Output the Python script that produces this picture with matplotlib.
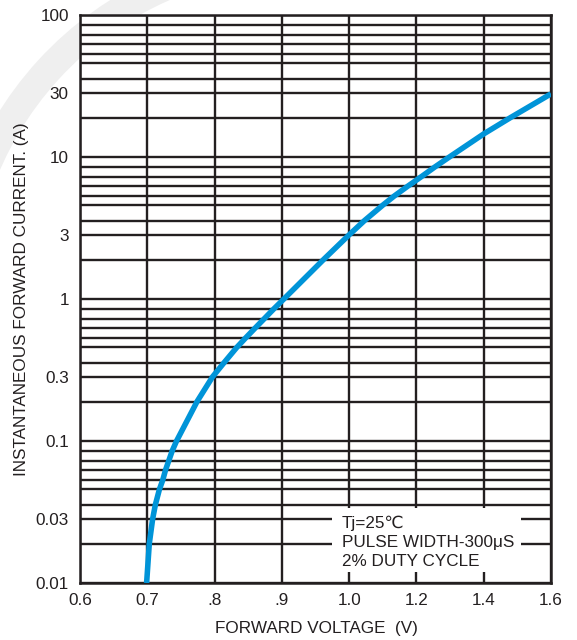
import numpy as np
import matplotlib
matplotlib.use("Agg")
import matplotlib.pyplot as plt
from matplotlib.patches import Wedge, Rectangle
from matplotlib.ticker import FixedLocator, NullFormatter

plt.rcParams['font.family'] = ['Liberation Sans', 'DejaVu Sans']

# Forward characteristic (V, A)
voltage = [0.699, 0.703, 0.708, 0.712, 0.718, 0.723, 0.727, 0.732, 0.737,
           0.7435, 0.774, 0.797, 0.814, 0.833, 0.846, 0.860, 0.874, 0.888,
           0.903, 0.962, 1.0, 1.045, 1.099, 1.134, 1.174, 1.215, 1.255,
           1.298, 1.4, 1.48, 1.6]
current = [0.01, 0.02, 0.03, 0.04, 0.05, 0.06, 0.07, 0.08, 0.09,
           0.1, 0.2, 0.3, 0.4, 0.5, 0.6, 0.7, 0.8, 0.9,
           1.0, 2.0, 3.0, 4.0, 5.0, 6.0, 7.0, 8.0, 9.0,
           10.0, 15.0, 20.0, 29.5]

x_ticks = [0.6, 0.7, 0.8, 0.9, 1.0, 1.2, 1.4, 1.6]
x_tick_labels = ["0.6", "0.7", ".8", ".9", "1.0", "1.2", "1.4", "1.6"]
y_ticks = [0.01, 0.03, 0.1, 0.3, 1, 3, 10, 30, 100]
y_tick_labels = ["0.01", "0.03", "0.1", "0.3", "1", "3", "10", "30", "100"]

note_lines = ["Tj=25\u2103", "PULSE WIDTH-300\u03bcS", "2% DUTY CYCLE"]

# chart-paper ruling inside one decade: mantissa -> fraction of decade height
paper_mantissa = [1, 2, 3, 4, 5, 6, 7, 8, 9, 10]
paper_fraction = [0.0, 0.278, 0.452, 0.551, 0.659, 0.725, 0.794, 0.862, 0.930, 1.0]

INK = '#231f20'
BLUE = '#0094d8'
FS = 12.3

W, H = 577, 640
fig = plt.figure(figsize=(W / 100, H / 100), dpi=100)
fig.patch.set_facecolor('white')

# faint ring watermark behind the axes
ring = Wedge((3.0, 3.4), 3.55, 90, 185, width=0.28,
             transform=fig.dpi_scale_trans, facecolor='#efefef',
             edgecolor='none', zorder=0)
fig.add_artist(ring)

ax = fig.add_axes([80 / W, (H - 583) / H, 471 / W, 568 / H])
ax.set_facecolor('white')


# piecewise x scale: 0.1 V steps up to 1.0, then 0.2 V steps
def x_fwd(x):
    x = np.asarray(x, dtype=float)
    return np.where(x <= 1.0, x, 1.0 + (x - 1.0) / 2.0)


def x_inv(u):
    u = np.asarray(u, dtype=float)
    return np.where(u <= 1.0, u, 1.0 + 2.0 * (u - 1.0))


# log-paper y scale with the printed sub-decade ruling
_dec = np.arange(-4, 4)
_knot_log = np.concatenate([d + np.log10(paper_mantissa[:-1]) for d in _dec])
_knot_pos = np.concatenate([d + np.array(paper_fraction[:-1]) for d in _dec])


def y_fwd(y):
    y = np.clip(np.asarray(y, dtype=float), 1e-12, None)
    return np.interp(np.log10(y), _knot_log, _knot_pos)


def y_inv(u):
    u = np.asarray(u, dtype=float)
    return 10.0 ** np.interp(u, _knot_pos, _knot_log)


ax.set_xscale('function', functions=(x_fwd, x_inv))
ax.set_yscale('function', functions=(y_fwd, y_inv))
ax.set_xlim(0.6, 1.6)
ax.set_ylim(0.01, 100)

ax.xaxis.set_major_locator(FixedLocator(x_ticks))
ax.set_xticklabels(x_tick_labels)
ax.xaxis.set_minor_locator(FixedLocator([]))

minor_y = [m * 10.0 ** e for e in range(-2, 2) for m in paper_mantissa[1:-1]
           if m != 3]
ax.yaxis.set_major_locator(FixedLocator(y_ticks))
ax.set_yticklabels(y_tick_labels)
ax.yaxis.set_minor_locator(FixedLocator(minor_y))
ax.yaxis.set_minor_formatter(NullFormatter())

ax.set_axisbelow(True)
ax.grid(True, which='both', color=INK, linewidth=1.7)
ax.tick_params(which='both', length=0, labelsize=FS, colors=INK)
ax.tick_params(axis='y', pad=8)
ax.tick_params(axis='x', pad=7)
for s in ax.spines.values():
    s.set_color(INK)
    s.set_linewidth(1.8)

ax.plot(voltage, current, color=BLUE, linewidth=4.0,
        solid_capstyle='butt', solid_joinstyle='round', zorder=3)

# condition note on a white panel
ax.add_patch(Rectangle((0.535, 0.019), 0.401, 0.113, transform=ax.transAxes,
                       facecolor='white', edgecolor='none', zorder=2))
for i, line in enumerate(note_lines):
    ax.text(0.556, 0.1056 - i * 0.0343, line, transform=ax.transAxes,
            fontsize=FS, color=INK, ha='left', va='center', zorder=4)

fig.text(316 / W, 1 - 629 / H, "FORWARD VOLTAGE  (V)", fontsize=FS,
         color=INK, ha='center', va='center')
fig.text(22 / W, 1 - 299 / H, "INSTANTANEOUS FORWARD CURRENT. (A)",
         fontsize=FS, color=INK, ha='center', va='center', rotation=90)

fig.savefig('out.png', dpi=100, facecolor='white')
